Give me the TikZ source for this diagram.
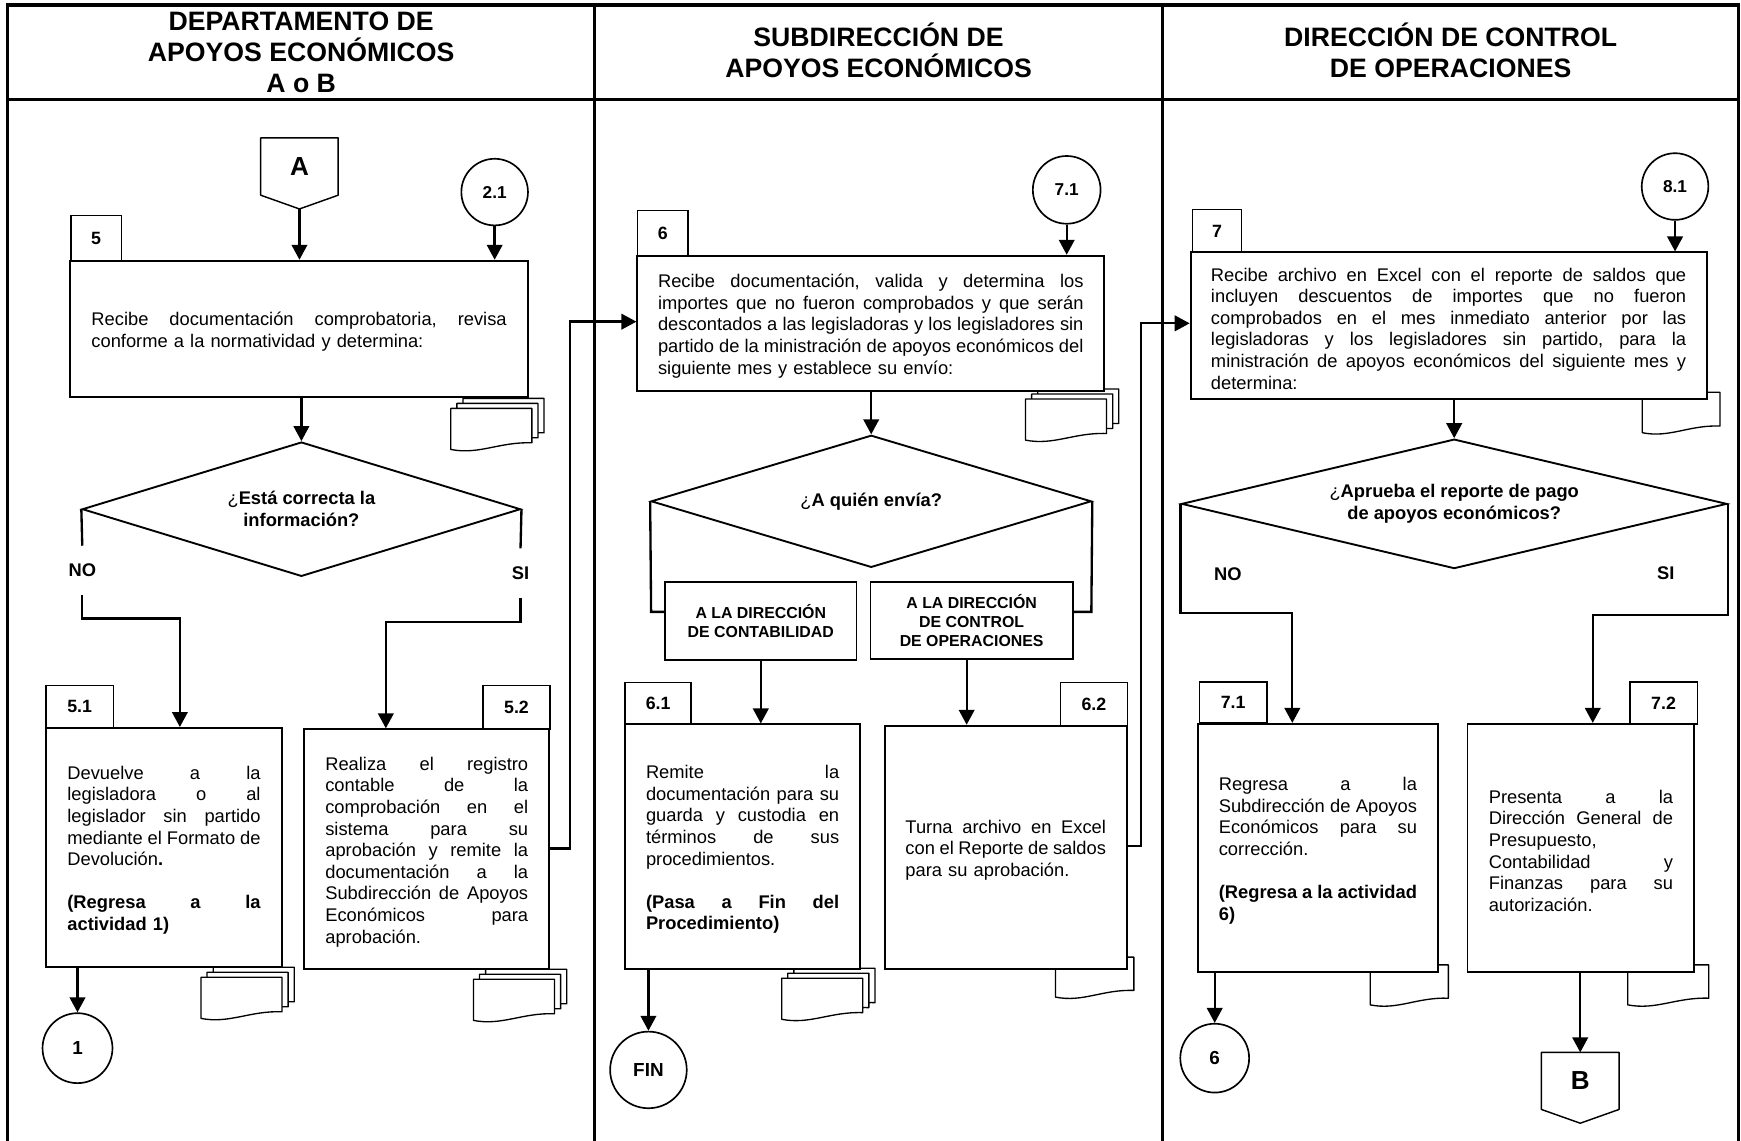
\documentclass[tikz,border=0pt]{standalone}
\usepackage{fontspec}
\setmainfont{Liberation Sans}
\usetikzlibrary{arrows.meta,shapes.geometric}

% type sizes
\newcommand\bodyfont{\fontsize{16.5}{19.45}\selectfont\frenchspacing}
\newcommand\titlefont{\fontsize{24}{28}\selectfont\bfseries}
\newcommand\tabfont{\fontsize{16}{19}\selectfont\bfseries}
\newcommand\decfont{\fontsize{16.5}{20}\selectfont\bfseries}
\newcommand\linkfont{\fontsize{15.5}{18}\selectfont\bfseries}
\newcommand\finfont{\fontsize{17}{19}\selectfont\bfseries}
\newcommand\branchfont{\fontsize{16.5}{19}\selectfont\bfseries}
\newcommand\choicefont{\fontsize{14.3}{17.5}\selectfont\bfseries}
\newcommand\pagefont{\fontsize{23.5}{28}\selectfont\bfseries}

% text of a task box: justified lines, last line of a paragraph, empty line
\newcommand\taskbody[1]{\vbox{\vskip5pt #1}}
\newcommand\jline[1]{\hbox to \hsize{\spaceskip=.278em plus 1fil minus .1em\relax #1}}
\newcommand\lline[1]{\hbox{#1}}
\newcommand\gapline{\hbox{}}

% document symbol: left x, top y, width, height of the left edge
\newcommand\docsheet[4]{%
  \draw[docline] (#1,#2) -- ({#1+#3},#2) -- ({#1+#3},{#2+#4-6})
    .. controls ({#1+0.6*#3},{#2+#4-7}) and ({#1+0.35*#3},{#2+#4+5}) .. (#1,{#2+#4}) -- cycle;}
% several copies of a document
\newcommand\docstack[2]{%
  \docsheet{#1+11}{#2-9}{73}{37}%
  \docsheet{#1+5.5}{#2-4.5}{73}{37}%
  \docsheet{#1}{#2}{73}{37}}

\tikzset{
  frame/.style={line width=3pt},
  task/.style={draw, fill=white, line width=1.7pt, inner sep=0pt, font=\bodyfont},
  tab/.style={draw, fill=white, line width=1.3pt, inner sep=0pt, font=\tabfont},
  conn/.style={line width=2.1pt},
  arrow/.style={conn, -{Triangle[length=13.5pt,width=14pt]}},
  decision/.style={draw, diamond, line width=1.7pt, inner sep=0pt, font=\decfont, align=center},
  link/.style={draw, circle, line width=1.5pt, inner sep=0pt, font=\linkfont},
  docline/.style={line width=1.2pt, fill=white, line join=round},
  offpage/.style={line width=1.3pt, line join=round},
  branch/.style={font=\branchfont, inner sep=0pt, minimum height=44pt},
  title/.style={font=\titlefont, align=center, inner sep=0pt},
  choice/.style={draw, fill=white, line width=1.5pt, inner sep=0pt, font=\choicefont, align=center}
}

\begin{document}
\begin{tikzpicture}[x=1pt,y=-1pt]
\useasboundingbox (0,0) rectangle (1568,1027);

% swimlane frame
\draw[frame] (7,1040) -- (7,4.5) -- (1566,4.5) -- (1566,1040);
\draw[frame] (7,89.5) -- (1566,89.5);
\draw[frame] (535.5,4.5) -- (535.5,1040);
\draw[frame] (1047,4.5) -- (1047,1040);

% lane titles
\node[title] (h1) at (271.25,47.2) {DEPARTAMENTO DE\\APOYOS ECONÓMICOS\\A o B};
\node[title] (h2) at (791.25,45.6) {SUBDIRECCIÓN DE\\APOYOS ECONÓMICOS};
\node[title] (h3) at (1306.5,45.6) {DIRECCIÓN DE CONTROL\\DE OPERACIONES};

% documents attached to the tasks
\docstack{406}{367.8}
\docstack{181}{880.2}
\docstack{426.4}{882}
\docstack{923.6}{359.4}
\docstack{704}{881}
\docsheet{1479}{353.3}{70}{36.4}
\docsheet{950.6}{862}{70.6}{36}
\docsheet{1234}{869}{70.4}{36}
\docsheet{1466}{869}{73}{36}

% step number tabs
\node[tab, minimum width=45.5pt, minimum height=40.6pt] (t5) at (86.55,214.5) {5};
\node[tab, minimum width=45.7pt, minimum height=40.5pt] (t6) at (596.85,210.05) {6};
\node[tab, minimum width=44.4pt, minimum height=40.3pt] (t7) at (1096,208.65) {7};
\node[tab, minimum width=60.6pt, minimum height=38.2pt] (t51) at (71.7,636.5) {5.1};
\node[tab, minimum width=60.3pt, minimum height=39.4pt] (t52) at (465.15,637.1) {5.2};
\node[tab, minimum width=59.4pt, minimum height=37pt] (t61) at (592.7,633.1) {6.1};
\node[tab, minimum width=60pt, minimum height=39pt] (t62) at (985.2,634.1) {6.2};
\node[tab, minimum width=60.5pt, minimum height=36.9pt] (t71) at (1110.65,632.55) {7.1};
\node[tab, minimum width=60.7pt, minimum height=37.8pt] (t72) at (1498.25,633) {7.2};

% task boxes
\node[task, minimum width=412.7pt, minimum height=123.1pt, text width=374pt] (b5) at (269.35,296.35) {\taskbody{%
  \jline{Recibe documentación comprobatoria, revisa}
  \lline{conforme a la normatividad y determina:}}};
\node[task, minimum width=420.5pt, minimum height=121.6pt, text width=383.2pt] (b6) at (784.25,291.1) {\taskbody{%
  \jline{Recibe documentación, valida y determina los}
  \jline{importes que no fueron comprobados y que serán}
  \jline{descontados a las legisladoras y los legisladores sin}
  \jline{partido de la ministración de apoyos económicos del}
  \lline{siguiente mes y establece su envío:}}};
\node[task, minimum width=464.7pt, minimum height=132.1pt, text width=428pt] (b7) at (1304.65,293.35) {\taskbody{%
  \jline{Recibe archivo en Excel con el reporte de saldos que}
  \jline{incluyen descuentos de importes que no fueron}
  \jline{comprobados en el mes inmediato anterior por las}
  \jline{legisladoras y los legisladores sin partido, para la}
  \jline{ministración de apoyos económicos del siguiente mes y}
  \lline{determina:}}};
\node[task, minimum width=212.6pt, minimum height=215.1pt, text width=174pt] (b51) at (147.7,763.15) {\taskbody{%
  \jline{Devuelve a la}
  \jline{legisladora o al}
  \jline{legislador sin partido}
  \jline{mediante el Formato de}
  \lline{Devolución\textbf{.}}
  \gapline
  \jline{\bfseries (Regresa a la}
  \lline{\bfseries actividad 1)}}};
\node[task, minimum width=220.7pt, minimum height=215.9pt, text width=182.7pt] (b52) at (384.35,764.75) {\taskbody{%
  \jline{Realiza el registro}
  \jline{contable de la}
  \jline{comprobación en el}
  \jline{sistema para su}
  \jline{aprobación y remite la}
  \jline{documentación a la}
  \jline{Subdirección de Apoyos}
  \jline{Económicos para}
  \lline{aprobación.}}};
\node[task, minimum width=211.6pt, minimum height=220.3pt, text width=174pt] (b61) at (668.8,762.55) {\taskbody{%
  \jline{Remite la}
  \jline{documentación para su}
  \jline{guarda y custodia en}
  \jline{términos de sus}
  \lline{procedimientos.}
  \gapline
  \jline{\bfseries (Pasa a Fin del}
  \lline{\bfseries Procedimiento)}}};
\node[task, minimum width=217.6pt, minimum height=219.1pt, text width=180.6pt] (b62) at (905.8,763.15) {\taskbody{%
  \jline{Turna archivo en Excel}
  \jline{con el Reporte de saldos}
  \lline{para su aprobación.}}};
\node[task, minimum width=216.1pt, minimum height=223.6pt, text width=178.5pt] (b71) at (1186.95,763.7) {\taskbody{%
  \jline{Regresa a la}
  \jline{Subdirección de Apoyos}
  \jline{Económicos para su}
  \lline{corrección.}
  \gapline
  \jline{\bfseries (Regresa a la actividad}
  \lline{\bfseries 6)}}};
\node[task, minimum width=204.3pt, minimum height=223.6pt, text width=166pt] (b72) at (1423.85,763.7) {\taskbody{%
  \jline{Presenta a la}
  \jline{Dirección General de}
  \lline{Presupuesto,}
  \jline{Contabilidad y}
  \jline{Finanzas para su}
  \lline{autorización.}}};

% decisions
\node[decision, aspect=3.2, minimum width=394.7pt, minimum height=121pt] (d1) at (271.45,458.6)
  {{\mdseries ¿}Está correcta la\\información?};
\node[decision, aspect=3.3, minimum width=396.5pt, minimum height=119pt] (d2) at (784.65,451.5)
  {{\mdseries ¿}A quién envía?};
\node[decision, aspect=4.2, minimum width=491.2pt, minimum height=116.6pt] (d3) at (1309.7,453.8)
  {{\mdseries ¿}Aprueba el reporte de pago\\de apoyos económicos?};

% choices of the second decision
\node[choice, minimum width=172.4pt, minimum height=70pt] (kA) at (685.2,559.2)
  {A LA DIRECCIÓN\\DE CONTABILIDAD};
\node[choice, minimum width=182.2pt, minimum height=69pt, font=\fontsize{14.3}{17}\selectfont\bfseries] (kB) at (875.1,558.8)
  {A LA DIRECCIÓN\\DE CONTROL\\DE OPERACIONES};

% connectors
\node[link, minimum size=60pt] (c21) at (445.5,173) {2.1};
\node[link, minimum size=61pt] (c71) at (960.7,171) {7.1};
\node[link, minimum size=60pt] (c81) at (1508.6,168) {8.1};
\node[link, font=\finfont, minimum size=63pt] (c1) at (69.8,944) {1};
\node[link, font=\finfont, minimum size=69pt] (cF) at (584,963.6) {FIN};
\node[link, font=\finfont, minimum size=62pt] (c6) at (1094,953) {6};

% off-page connectors
\node[font=\pagefont, inner sep=0pt, minimum width=69.4pt, minimum height=51.3pt] (pA) at (269.7,149.95) {A};
\coordinate (pAtip) at (269.7,188.2);
\draw[offpage] (pA.north west) -- (pA.north east) -- (pA.south east) -- (pAtip) -- (pA.south west) -- cycle;
\node[font=\pagefont, inner sep=0pt, minimum width=69.5pt, minimum height=51pt] (pB) at (1423.2,973.5) {B};
\coordinate (pBtip) at (1423.2,1011.6);
\draw[offpage] (pB.north west) -- (pB.north east) -- (pB.south east) -- (pBtip) -- (pB.south west) -- cycle;

% branch labels
\node[branch] (no1) at (74.1,513.7) {NO};
\node[branch] (si1) at (468.8,516.1) {SI};
\node[font=\branchfont, inner sep=0pt] (no3) at (1105.8,516.9) {NO};
\node[font=\branchfont, inner sep=0pt] (si3) at (1500.2,516.5) {SI};

% bend points
\coordinate (j1) at (586.4,551.1);
\coordinate (j2) at (982.9,551.1);
\coordinate (j3) at (870.6,600);
\coordinate (j4) at (513.6,764.2);
\coordinate (j4t) at (513.6,289.7);
\coordinate (j5) at (1027.9,762.2);
\coordinate (j5t) at (1027.9,291.2);
\coordinate (j7) at (1163.9,552.3);
\coordinate (j8) at (1434.5,553.9);
\coordinate (j9) at (162,557.1);
\coordinate (j10) at (347.5,560.3);

% flow, first lane
\draw[arrow] (pAtip) -- (pAtip |- b5.north);
\draw[arrow] (c21.south) -- (c21.south |- b5.north);
\draw[arrow] (b5.south -| d1.north) -- (d1.north);
\draw[conn] (d1.west) -- (no1.north);
\draw[arrow] (no1.south) |- (j9) -- (j9 |- b51.north);
\draw[conn] (d1.east) -- (si1.north);
\draw[arrow] (si1.south) |- (j10) -- (j10 |- b52.north);
\draw[arrow] (c1.north |- b51.south) -- (c1.north);
\draw[arrow] (j4 -| b52.east) -- (j4) -- (j4t) -- (j4t -| b6.west);

% flow, second lane
\draw[arrow] (c71.south) -- (c71.south |- b6.north);
\draw[arrow] (b6.south -| d2.north) -- (d2.north);
\draw[conn] (d2.west) -- (j1) -- (j1 -| kA.west);
\draw[conn] (d2.east) -- (j2) -- (j2 -| kB.east);
\draw[arrow] (kA.south) -- (kA.south |- b61.north);
\draw[arrow] (j3 |- kB.south) -- (j3 |- b62.north);
\draw[arrow] (cF.north |- b61.south) -- (cF.north);
\draw[arrow] (j5 -| b62.east) -- (j5) -- (j5t) -- (j5t -| b7.west);

% flow, third lane
\draw[arrow] (c81.south) -- (c81.south |- b7.north);
\draw[arrow] (b7.south -| d3.north) -- (d3.north);
\draw[arrow] (d3.west) |- (j7) -- (j7 |- b71.north);
\draw[arrow] (d3.east) |- (j8) -- (j8 |- b72.north);
\draw[arrow] (c6.north |- b71.south) -- (c6.north);
\draw[arrow] (pB.north |- b72.south) -- (pB.north);
\end{tikzpicture}
\end{document}
